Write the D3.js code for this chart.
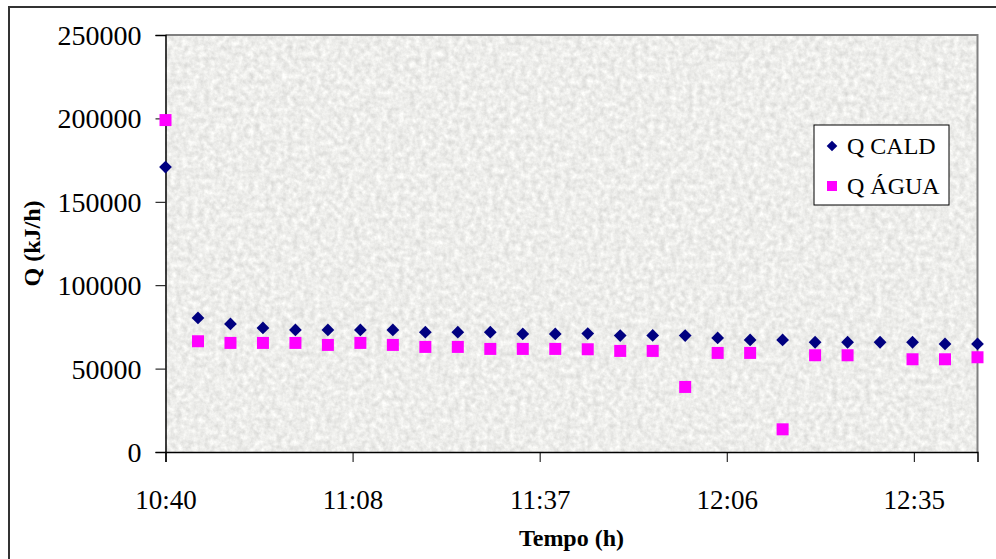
<!DOCTYPE html>
<html>
<head>
<meta charset="utf-8">
<script src="https://cdnjs.cloudflare.com/ajax/libs/d3/7.8.5/d3.min.js"></script>
<style>
  body { margin: 0; background: #fff; }
</style>
</head>
<body>
<div id="chart"></div>
<script>
// Sample times (every 5 min)
const times = ["10:40","10:45","10:50","10:55","11:00","11:05","11:10","11:15","11:20","11:25",
               "11:30","11:35","11:40","11:45","11:50","11:55","12:00","12:05","12:10","12:15",
               "12:20","12:25","12:30","12:35","12:40","12:45"];

// Q CALD (kJ/h)
const qCald = [170800, 80400, 76800, 74400, 73200, 73200, 73200, 73200, 71800, 71800,
               71800, 70800, 70800, 71000, 69800, 69900, 69800, 68400, 67200, 67200,
               65800, 65800, 65800, 65800, 64800, 64800];

// Q ÁGUA (kJ/h), no reading at 12:30
const qAgua = [199000, 66400, 65400, 65400, 65400, 64200, 65400, 64200, 63000, 63000,
               61800, 61800, 61800, 61600, 60600, 60600, 39000, 59400, 59400, 13600,
               58000, 58000, null, 55600, 55600, 56800];

// x axis ticks (Excel steps of 0.02 day) and y ticks
const xTickTimes = ["10:40:00","11:08:48","11:37:36","12:06:24","12:35:12"];
const yTicks = [0, 50000, 100000, 150000, 200000, 250000];

const W = 996, H = 559;
const margin = {top: 35, right: 18.5, bottom: 107, left: 165.5},
      width = W - margin.left - margin.right,
      height = H - margin.top - margin.bottom;
const serif = '"Liberation Serif", "Times New Roman", serif';

const parse = d3.timeParse("%H:%M:%S");
const toDate = s => parse(s.length === 5 ? s + ":00" : s);

const svg = d3.select("#chart").append("svg")
    .attr("width", W)
    .attr("height", H)
    .attr("font-family", serif);

// granite texture for the plot area
const defs = svg.append("defs");
const filt = defs.append("filter").attr("id", "granite")
    .attr("x", 0).attr("y", 0).attr("width", 1).attr("height", 1)
    .attr("color-interpolation-filters", "sRGB");
filt.append("feTurbulence")
    .attr("type", "fractalNoise")
    .attr("baseFrequency", 0.18)
    .attr("numOctaves", 4)
    .attr("seed", 3);
filt.append("feColorMatrix")
    .attr("type", "matrix")
    .attr("values", "0.2 0 0 0 0.83  0.2 0 0 0 0.83  0.2 0 0 0 0.82  0 0 0 0 1");

// outer chart frame
svg.append("rect")
    .attr("x", 9).attr("y", 7)
    .attr("width", 1000).attr("height", 600)
    .attr("fill", "none")
    .attr("stroke", "#333")
    .attr("stroke-width", 2);

const g = svg.append("g")
    .attr("transform", `translate(${margin.left},${margin.top})`);

const x = d3.scaleTime()
    .domain([toDate("10:40"), toDate("12:45")])
    .range([0, width]);
const y = d3.scaleLinear()
    .domain([0, 250000])
    .range([height, 0]);

// plot background
g.append("rect")
    .attr("width", width).attr("height", height)
    .attr("filter", "url(#granite)");

// top and right border in grey
g.append("path")
    .attr("d", `M0,0H${width}V${height}`)
    .attr("fill", "none")
    .attr("stroke", "#808080")
    .attr("stroke-width", 2);

// y axis
const yAxis = g.append("g")
    .call(d3.axisLeft(y).tickValues(yTicks).tickSize(10).tickPadding(14).tickFormat(d3.format("d")))
    .attr("font-family", serif)
    .attr("font-size", 28);
yAxis.select(".domain").attr("stroke", "#000").attr("stroke-width", 1.5);
yAxis.selectAll(".tick line").attr("stroke", "#000");
yAxis.selectAll("text").attr("dy", "0.34em");

// x axis
const xAxis = g.append("g")
    .attr("transform", `translate(0,${height})`)
    .call(d3.axisBottom(x).tickValues(xTickTimes.map(toDate)).tickSize(10).tickPadding(28)
          .tickFormat(d3.timeFormat("%H:%M")))
    .attr("font-family", serif)
    .attr("font-size", 27);
xAxis.select(".domain").attr("stroke", "#000").attr("stroke-width", 1.5);
xAxis.selectAll(".tick line").attr("stroke", "#000");
xAxis.selectAll("text").attr("dy", "0.71em");

// axis titles
svg.append("text")
    .attr("x", (margin.left + W - margin.right) / 2)
    .attr("y", 546)
    .attr("text-anchor", "middle")
    .attr("font-size", 24)
    .attr("font-weight", "bold")
    .text("Tempo (h)");

svg.append("text")
    .attr("transform", `translate(40,${margin.top + height / 2}) rotate(-90)`)
    .attr("text-anchor", "middle")
    .attr("font-size", 24)
    .attr("font-weight", "bold")
    .text("Q (kJ/h)");

// data
const caldPts = times.map((t, i) => ({t: toDate(t), v: qCald[i]})).filter(d => d.v != null);
const aguaPts = times.map((t, i) => ({t: toDate(t), v: qAgua[i]})).filter(d => d.v != null);

const diamond = d3.symbol().type(d3.symbolDiamond2).size(104);
const square = d3.symbol().type(d3.symbolSquare).size(144);

g.selectAll(".agua")
    .data(aguaPts)
    .enter().append("path")
    .attr("class", "agua")
    .attr("d", square)
    .attr("transform", d => `translate(${x(d.t)},${y(d.v)})`)
    .attr("fill", "#ff00ff");

g.selectAll(".cald")
    .data(caldPts)
    .enter().append("path")
    .attr("class", "cald")
    .attr("d", diamond)
    .attr("transform", d => `translate(${x(d.t)},${y(d.v)})`)
    .attr("fill", "#000080");

// legend
const lg = svg.append("g").attr("transform", "translate(814,125)");
lg.append("rect")
    .attr("width", 135).attr("height", 80)
    .attr("fill", "#fff")
    .attr("stroke", "#000")
    .attr("stroke-width", 1);
lg.append("path").attr("d", d3.symbol().type(d3.symbolDiamond2).size(72))
    .attr("transform", "translate(18,21)").attr("fill", "#000080");
lg.append("path").attr("d", d3.symbol().type(d3.symbolSquare).size(100))
    .attr("transform", "translate(18,61)").attr("fill", "#ff00ff");
lg.append("text").attr("x", 33).attr("y", 29).attr("font-size", 24).text("Q CALD");
lg.append("text").attr("x", 33).attr("y", 69).attr("font-size", 24).text("Q ÁGUA");
</script>
</body>
</html>
